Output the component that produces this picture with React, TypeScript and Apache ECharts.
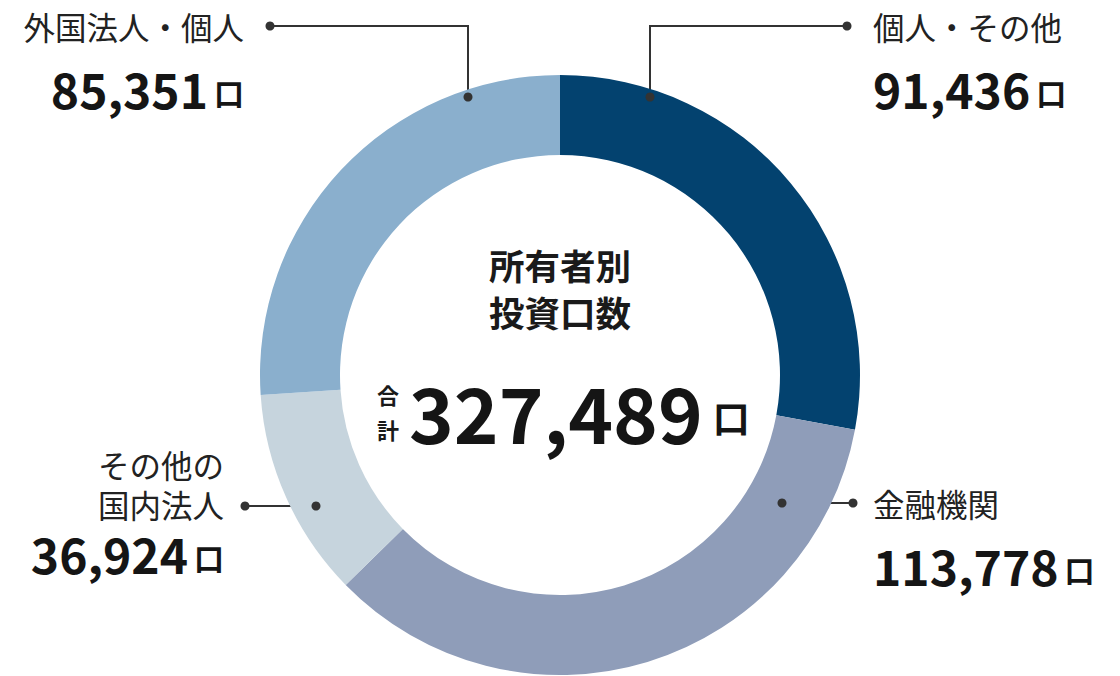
import * as echarts from 'echarts';
import { useEffect, useRef } from 'react';

const names = ['個人・その他', '金融機関', 'その他の\n国内法人', '外国法人・個人'];
const values = [91436, 113778, 36924, 85351];
const colors = ['#03426f', '#8f9db9', '#c6d4dd', '#8aafcd'];
const centerTitle = '所有者別\n投資口数';
const unit = '口';

const FONT = '"Noto Sans CJK JP", "Noto Sans", sans-serif';

// label block placement and leader lines (annotation layout)
const labelPlaces = [
    { x: 873, y: 0, align: 'left', n: 'n', v: 'v', line: [[650, 97], [650, 26], [847, 26]] },
    { x: 873, y: 477, align: 'left', n: 'n', v: 'v', line: [[782, 503], [818, 503], [853, 503]] },
    { x: 224, y: 444, align: 'right', n: 'n2', v: 'v2', line: [[316, 506], [280, 506], [245, 506]] },
    { x: 244, y: 0, align: 'right', n: 'n', v: 'v', line: [[468, 97], [468, 26], [270, 26]] },
];

const fmt = (v: number) => v.toLocaleString('en-US');

export default function App() {
    const chartRef = useRef<HTMLDivElement>(null);

    useEffect(() => {
        if (!chartRef.current) return;
        const chart = echarts.init(chartRef.current, null, { renderer: 'svg' });

        const total = values.reduce((a, b) => a + b, 0);

        const dots = labelPlaces.flatMap((p) => [p.line[0], p.line[p.line.length - 1]]).map(([cx, cy]) => ({
            type: 'circle',
            shape: { cx, cy, r: 4.5 },
            style: { fill: '#333' },
            z: 100,
        }));

        const option: echarts.EChartsOption = {
            animation: false,
            textStyle: { fontFamily: FONT },
            graphic: [
                ...dots,
                {
                    type: 'text',
                    x: 560,
                    y: 288,
                    style: {
                        text: centerTitle,
                        align: 'center',
                        verticalAlign: 'middle',
                        fontSize: 35.5,
                        fontWeight: 'bold',
                        lineHeight: 47,
                        fontFamily: FONT,
                        fill: '#1a1a1a',
                    },
                },
                {
                    type: 'text',
                    x: 388,
                    y: 411,
                    style: {
                        text: '合\n計',
                        align: 'center',
                        verticalAlign: 'middle',
                        fontSize: 22,
                        fontWeight: 'bold',
                        lineHeight: 35,
                        fontFamily: FONT,
                        fill: '#1a1a1a',
                    },
                },
                {
                    type: 'text',
                    x: 409,
                    y: 411,
                    style: {
                        text: `{a|${fmt(total)}}{b|${unit}}`,
                        align: 'left',
                        verticalAlign: 'middle',
                        fontFamily: FONT,
                        rich: {
                            a: { fontSize: 76, fontWeight: 'bold', fill: '#151515', fontFamily: FONT },
                            b: { fontSize: 37, fontWeight: 'bold', fill: '#151515', fontFamily: FONT, padding: [12, 0, 0, 10] },
                        },
                    },
                },
            ] as any,
            series: [
                {
                    type: 'pie',
                    center: [560, 375],
                    radius: [220, 300],
                    startAngle: 90,
                    clockwise: true,
                    silent: true,
                    itemStyle: { borderWidth: 0 },
                    label: {
                        show: true,
                        position: 'outside',
                        formatter: (p: any) => {
                            const lp = labelPlaces[p.dataIndex];
                            return `{${lp.n}|${p.name}}\n{${lp.v}|${fmt(p.value)}}{u|${unit}}`;
                        },
                        rich: {
                            n: { fontSize: 31.5, color: '#222', lineHeight: 52, fontFamily: FONT },
                            n2: { fontSize: 31.5, color: '#222', lineHeight: 40, fontFamily: FONT },
                            v: { fontSize: 48, fontWeight: 'bold', color: '#151515', lineHeight: 72, fontFamily: FONT },
                            v2: { fontSize: 48, fontWeight: 'bold', color: '#151515', lineHeight: 58, fontFamily: FONT },
                            u: { fontSize: 30, fontWeight: 'bold', color: '#151515', fontFamily: FONT, padding: [8, 0, 0, 6] },
                        },
                    },
                    labelLine: {
                        show: true,
                        lineStyle: { color: '#333', width: 2 },
                    },
                    labelLayout: (params: any) => {
                        const lp = labelPlaces[params.dataIndex];
                        return {
                            x: lp.x,
                            y: lp.y,
                            align: lp.align,
                            verticalAlign: 'top',
                            labelLinePoints: lp.line,
                        } as any;
                    },
                    data: names.map((name, i) => ({
                        name,
                        value: values[i],
                        itemStyle: { color: colors[i] },
                    })),
                },
            ],
        };

        chart.setOption(option);

        return () => {
            chart.dispose();
        };
    }, []);

    return (
        <div
            ref={chartRef}
            style={{ position: 'absolute', left: 0, top: 0, width: '1120px', height: '676px', background: '#fff' }}
        />
    );
}
